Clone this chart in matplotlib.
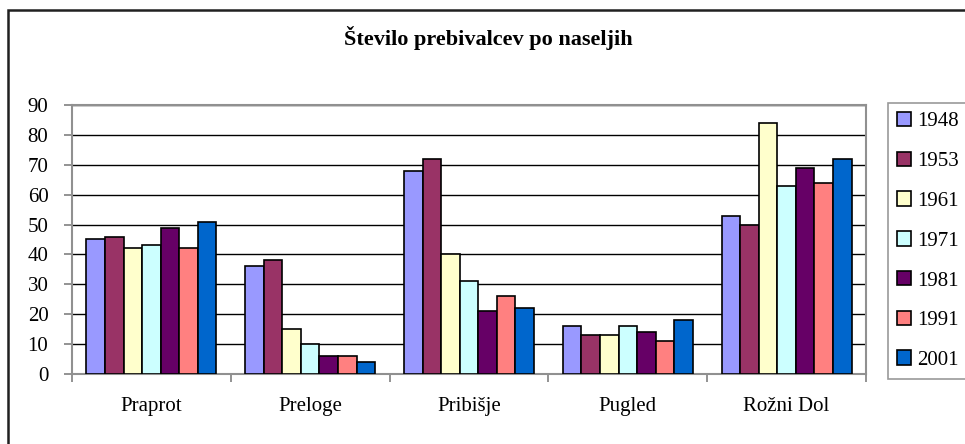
import numpy as np
import matplotlib
matplotlib.use("Agg")
import matplotlib.pyplot as plt
from matplotlib.patches import Rectangle

# data
naselja = ['Praprot', 'Preloge', 'Pribišje', 'Pugled', 'Rožni Dol']
leta = ['1948', '1953', '1961', '1971', '1981', '1991', '2001']
v1948 = [45, 36, 68, 16, 53]
v1953 = [46, 38, 72, 13, 50]
v1961 = [42, 15, 40, 13, 84]
v1971 = [43, 10, 31, 16, 63]
v1981 = [49, 6, 21, 14, 69]
v1991 = [42, 6, 26, 11, 64]
v2001 = [51, 4, 22, 18, 72]
serije = [v1948, v1953, v1961, v1971, v1981, v1991, v2001]
barve = ['#9999FF', '#993366', '#FFFFCC', '#CCFFFF', '#660066', '#FF8080', '#0066CC']

plt.rcParams['font.family'] = ['Liberation Serif', 'DejaVu Serif']

fig = plt.figure(figsize=(9.65, 4.44), dpi=100)
ax = fig.add_axes([72/965, 1 - 374.3/444, (866-72)/965, (374.3-104.7)/444])

x = np.arange(len(naselja))
w = 0.117
for j, (vals, c, lab) in enumerate(zip(serije, barve, leta)):
    ax.bar(x + (j - 3) * w, vals, width=w, color=c, edgecolor='black',
           linewidth=1.2, label=lab, zorder=3)

ax.set_xlim(-0.5, len(naselja) - 0.5)
ax.set_ylim(0, 90)
ax.set_yticks(range(0, 91, 10))
ax.yaxis.grid(True, color='black', linewidth=1, zorder=0)
ax.set_axisbelow(True)

# category boundaries as ticks, names as minor-free labels
ax.set_xticks(np.arange(-0.5, len(naselja), 1.0))
ax.set_xticklabels([])
ax.set_xticks(x, minor=True)
ax.set_xticklabels(naselja, minor=True, fontsize=15)
ax.tick_params(axis='x', which='minor', length=0, pad=16)
ax.tick_params(axis='x', which='major', length=6, color='#808080', width=1.2)
ax.tick_params(axis='y', length=6, color='#808080', width=1.2, labelsize=15, pad=11)

for s in ax.spines.values():
    s.set_color('#909090')
    s.set_linewidth(1.5)

fig.text(488/965, 1 - 38/444, 'Število prebivalcev po naseljih', fontsize=16,
         fontweight='bold', ha='center', va='center')

leg = fig.legend(loc='upper left', bbox_to_anchor=(888/965, 1 - 103/444),
                 fontsize=15, frameon=True, fancybox=False, edgecolor='#808080',
                 handlelength=0.7, handleheight=0.7, handletextpad=0.3,
                 labelspacing=0.97, borderpad=0.42, borderaxespad=0)
leg.get_frame().set_linewidth(1.2)

# outer chart border
fig.patches.append(Rectangle((8/965, -0.2), 1.2, 1.2 - 10/444, transform=fig.transFigure,
                             fill=False, edgecolor='#202020', linewidth=1.8))

fig.savefig('out.png', dpi=100)
